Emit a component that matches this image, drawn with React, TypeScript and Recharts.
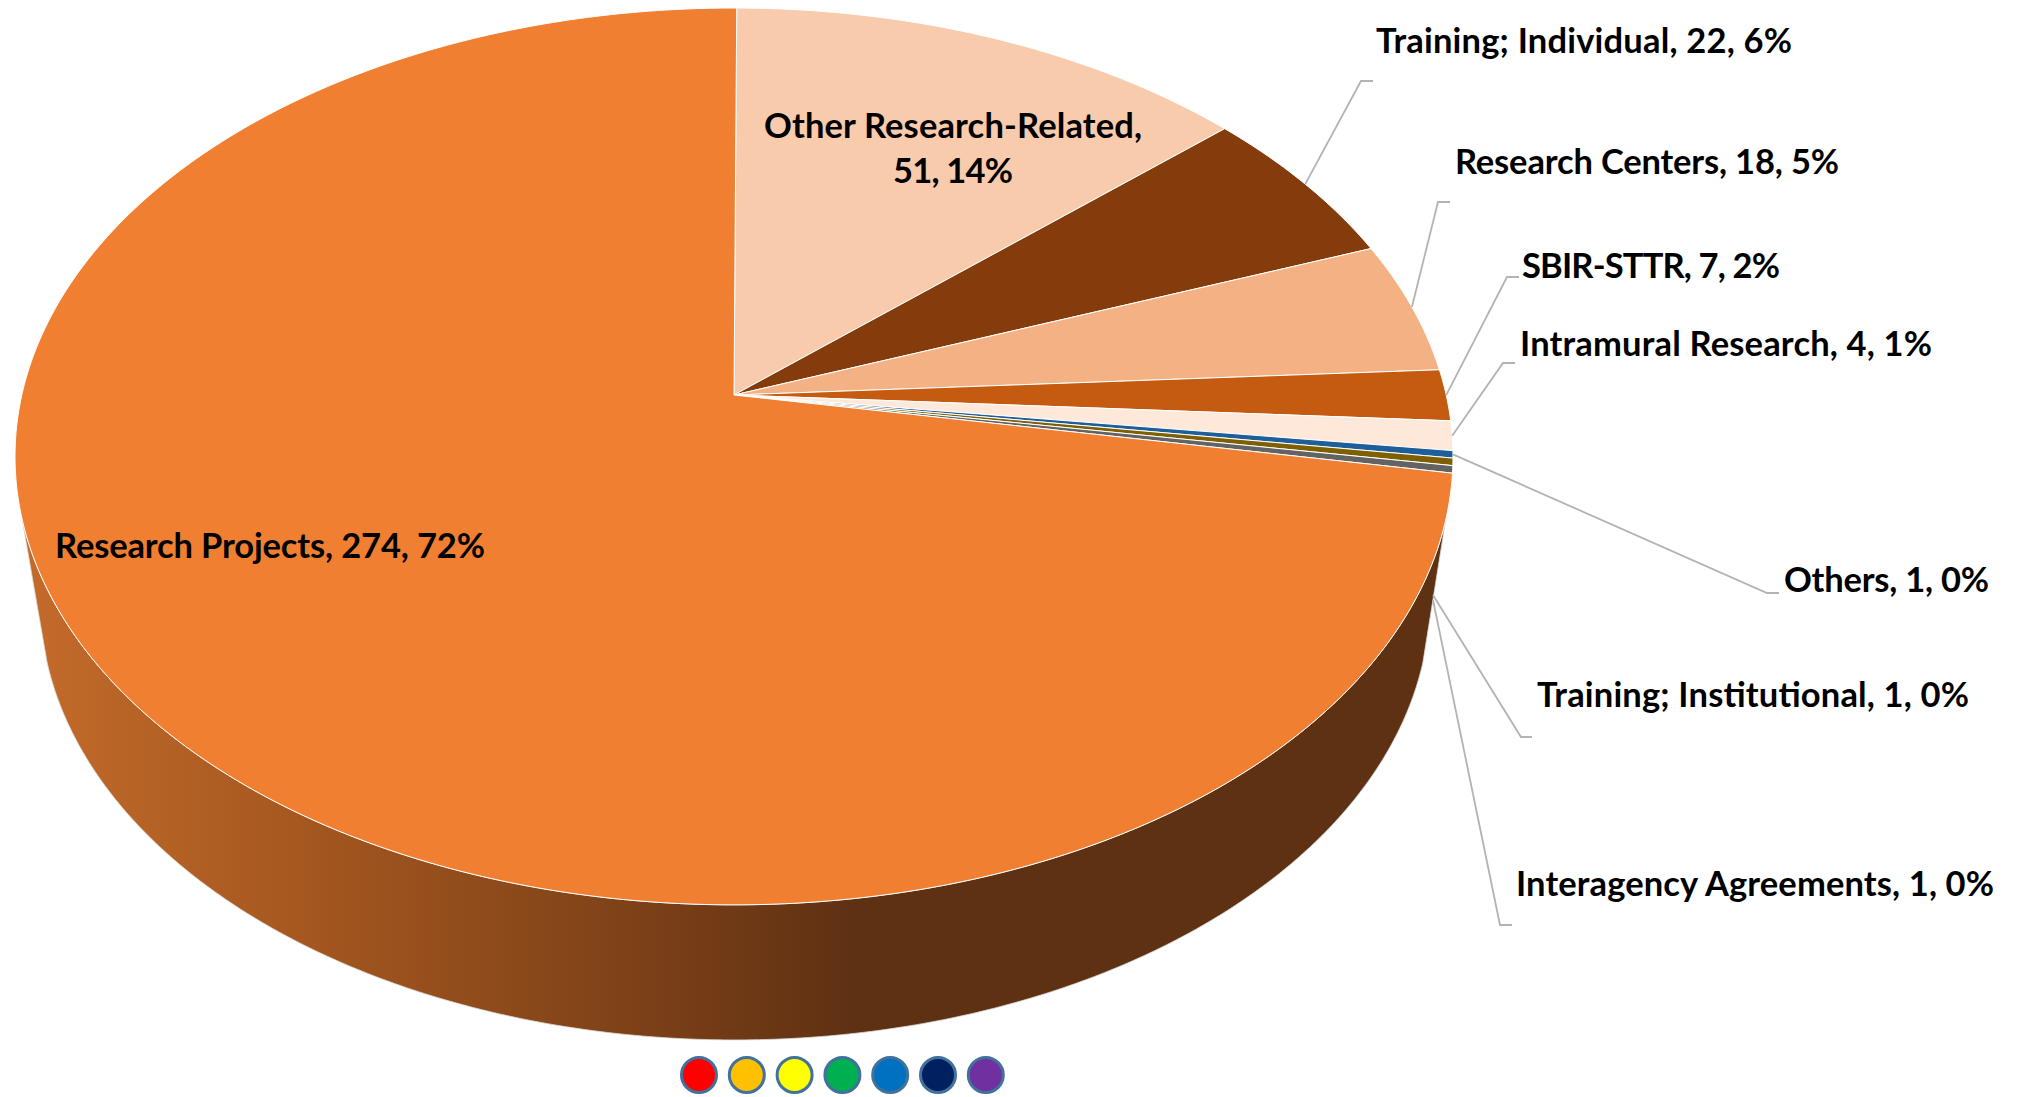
import { Pie, PieChart, Cell } from "recharts";

const CATEGORIES = [
  "Other Research-Related",
  "Training; Individual",
  "Research Centers",
  "SBIR-STTR",
  "Intramural Research",
  "Others",
  "Training; Institutional",
  "Interagency Agreements",
  "Research Projects",
];
const COUNTS = [51, 22, 18, 7, 4, 1, 1, 1, 274];
const PERCENT_LABELS = ["14%", "6%", "5%", "2%", "1%", "0%", "0%", "0%", "72%"];
const COLORS = [
  "#F8CBAD",
  "#843C0C",
  "#F4B183",
  "#C55A11",
  "#FDE8D9",
  "#1F5F99",
  "#7F6000",
  "#636363",
  "#F07F32",
];
const DOT_COLORS = ["#FF0000", "#FFC000", "#FFFF00", "#00B050", "#0070C0", "#002060", "#7030A0"];

const tableData = CATEGORIES.map((name, i) => ({ name, count: COUNTS[i] }));

const WIDTH = 2023;
const HEIGHT = 1097;
const CX = 734;
const CY = 395;
const START_ANGLE = 89.75;
const FONT_SIZE = 34.5;
const FONT = "Lato, 'Noto Sans', sans-serif";

// tilted disc seen in perspective: top face and the lower rim
const TOP = { x: 734, y: 395, a: 712.2, b: 440, k: 0.137 };
const BOTTOM = { x: 735, y: 539.7, a: 688.4, b: 431.7, k: 0.137 };
const WALL_FROM = -15.9;
const WALL_TO = -164.1;

type Disc = typeof TOP;

function project(disc: Disc, deg: number) {
  const t = (deg * Math.PI) / 180;
  const u = Math.cos(t);
  const v = Math.sin(t);
  const w = 1 + disc.k * v;
  return { x: disc.x + (disc.a * u) / w, y: disc.y - (disc.b * v) / w };
}

function arcPoints(disc: Disc, from: number, to: number) {
  const steps = Math.max(2, Math.ceil(Math.abs(from - to) * 2));
  const pts: string[] = [];
  for (let i = 0; i <= steps; i++) {
    const p = project(disc, from + ((to - from) * i) / steps);
    pts.push(`${p.x.toFixed(2)} ${p.y.toFixed(2)}`);
  }
  return pts;
}

function TopSector(props: any) {
  const pts = arcPoints(TOP, props.startAngle, props.endAngle);
  return (
    <path
      d={`M${TOP.x} ${TOP.y}L${pts.join("L")}Z`}
      fill={props.fill}
      stroke="#fff"
      strokeWidth={1}
      strokeLinejoin="round"
    />
  );
}

function WallSector(props: any) {
  const hi = Math.min(props.startAngle, WALL_FROM);
  const lo = Math.max(props.endAngle, WALL_TO);
  if (hi <= lo) return null;
  const upper = arcPoints(TOP, hi, lo);
  const lower = arcPoints(BOTTOM, lo, hi);
  return (
    <g>
      <defs>
        <linearGradient id="wallShade" gradientUnits="userSpaceOnUse" x1={22} y1={0} x2={1450} y2={0}>
          <stop offset="0" stopColor="#C46B2B" />
          <stop offset="0.2" stopColor="#A4571F" />
          <stop offset="0.42" stopColor="#7F4218" />
          <stop offset="0.58" stopColor="#5F3113" />
          <stop offset="1" stopColor="#5F3113" />
        </linearGradient>
      </defs>
      <path
        d={`M${upper.join("L")}L${lower.join("L")}Z`}
        fill="url(#wallShade)"
        stroke="#d9d9d9"
        strokeWidth={0.8}
      />
    </g>
  );
}

// where each label's text sits, how wide it runs and how its leader goes
const LABEL_LAYOUT: Record<string, any> = {
  "Other Research-Related": { lines: [[953, 138, 378], [953, 183, 120]], anchor: "middle" },
  "Research Projects": { lines: [[55, 558, 430]] },
  "Training; Individual": { lines: [[1376, 53, 416]], elbow: [1361, 81], end: [1373, 81] },
  "Research Centers": { lines: [[1455, 174, 384]], elbow: [1438, 202], end: [1450, 202] },
  "SBIR-STTR": { lines: [[1522, 278, 258]], elbow: [1507, 277], end: [1519, 277] },
  "Intramural Research": { lines: [[1520, 356, 412]], elbow: [1503, 363], end: [1515, 363] },
  Others: { lines: [[1784, 592, 205]], elbow: [1767, 593], end: [1779, 593] },
  "Training; Institutional": { lines: [[1537, 707, 432]], start: [1433, 595], elbow: [1521, 737], end: [1532, 737] },
  "Interagency Agreements": { lines: [[1516, 896, 478]], start: [1433, 600], elbow: [1500, 925], end: [1512, 925] },
};

function renderLabel(props: any) {
  const { index, midAngle } = props;
  const name = CATEGORIES[index];
  const layout = LABEL_LAYOUT[name];
  const pct = PERCENT_LABELS[index];
  const rows =
    layout.lines.length > 1
      ? [`${name},`, `${COUNTS[index]}, ${pct}`]
      : [`${name}, ${COUNTS[index]}, ${pct}`];
  let leader = null;
  if (layout.elbow) {
    const edge = project(TOP, midAngle);
    const s = layout.start ?? [edge.x, edge.y];
    leader = (
      <polyline
        points={`${s[0]},${s[1]} ${layout.elbow[0]},${layout.elbow[1]} ${layout.end[0]},${layout.end[1]}`}
        fill="none"
        stroke="#B3B3B3"
        strokeWidth={1.8}
      />
    );
  }
  return (
    <g key={name}>
      {leader}
      {rows.map((row, i) => (
        <text
          key={row}
          x={layout.lines[i][0]}
          y={layout.lines[i][1]}
          textLength={layout.lines[i][2]}
          lengthAdjust="spacing"
          textAnchor={layout.anchor ?? "start"}
          fontFamily={FONT}
          fontWeight={700}
          fontSize={FONT_SIZE}
          fill="#000"
        >
          {row}
        </text>
      ))}
    </g>
  );
}

export default function App() {
  return (
    <div style={{ position: "absolute", left: 0, top: 0, width: WIDTH, height: HEIGHT, background: "#fff" }}>
      <PieChart width={WIDTH} height={HEIGHT} margin={{ top: 0, right: 0, bottom: 0, left: 0 }}>
        <Pie
          data={tableData}
          dataKey="count"
          nameKey="name"
          cx={CX}
          cy={CY}
          outerRadius={400}
          startAngle={START_ANGLE}
          endAngle={START_ANGLE - 360}
          stroke="none"
          shape={WallSector}
          label={false}
          labelLine={false}
          isAnimationActive={false}
        />
        <Pie
          data={tableData}
          dataKey="count"
          nameKey="name"
          cx={CX}
          cy={CY}
          outerRadius={400}
          startAngle={START_ANGLE}
          endAngle={START_ANGLE - 360}
          shape={TopSector}
          label={renderLabel}
          labelLine={false}
          isAnimationActive={false}
        >
          {tableData.map((entry, i) => (
            <Cell key={entry.name} fill={COLORS[i]} />
          ))}
        </Pie>
        {DOT_COLORS.map((color, i) => (
          <circle
            key={color}
            cx={699 + i * 47.8}
            cy={1075}
            r={17.5}
            fill={color}
            stroke="#41719C"
            strokeWidth={3}
          />
        ))}
      </PieChart>
    </div>
  );
}
